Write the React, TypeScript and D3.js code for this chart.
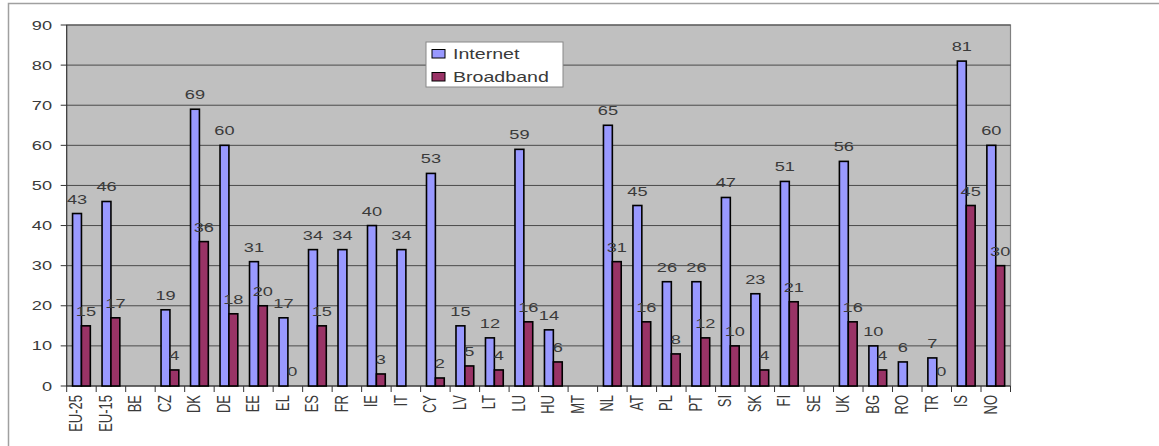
import { useEffect, useRef } from "react"
import * as d3 from "d3"

const countries = [
  "EU-25", "EU-15", "BE", "CZ", "DK", "DE", "EE", "EL", "ES", "FR", "IE", "IT", "CY", "LV", "LT", "LU",
  "HU", "MT", "NL", "AT", "PL", "PT", "SI", "SK", "FI", "SE", "UK", "BG", "RO", "TR", "IS", "NO",
]
const internet: (number | null)[] = [
  43, 46, null, 19, 69, 60, 31, 17, 34, 34, 40, 34, 53, 15, 12, 59,
  14, null, 65, 45, 26, 26, 47, 23, 51, null, 56, 10, 6, 7, 81, 60,
]
const broadband: (number | null)[] = [
  15, 17, null, 4, 36, 18, 20, 0, 15, null, 3, null, 2, 5, 4, 16,
  6, null, 31, 16, 8, 12, 10, 4, 21, null, 16, 4, null, 0, 45, 30,
]
const yTicks = [0, 10, 20, 30, 40, 50, 60, 70, 80, 90]
const seriesNames = ["Internet", "Broadband"]
const seriesColors = ["#9999FF", "#993366"]

// the source image is stretched sideways, so text is too
const SX = 1.4

const App = () => {
  const svgRef = useRef<SVGSVGElement>(null)

  useEffect(() => {
    const svg = d3.select(svgRef.current)
    svg.selectAll("*").remove()

    const width = 1159
    const height = 446
    const plot = { left: 66.7, right: 1010.5, top: 25, bottom: 386 }
    const font = "'Liberation Sans', Arial, sans-serif"
    const textColor = "#3a3a3a"

    svg.attr("width", width).attr("height", height)

    // outer frame
    svg.append("path")
      .attr("d", `M${width},3.5 H8.5 V${height}`)
      .attr("fill", "none")
      .attr("stroke", "#a0a0a0")
      .attr("stroke-width", 1.5)

    const x = d3.scaleBand().domain(countries).range([plot.left, plot.right])
    const xs = d3.scaleBand().domain(seriesNames).range([0, x.bandwidth()]).paddingInner(0).paddingOuter(0.66)
    const y = d3.scaleLinear().domain([0, 90]).range([plot.bottom, plot.top])

    svg.append("rect")
      .attr("x", plot.left)
      .attr("y", plot.top)
      .attr("width", plot.right - plot.left)
      .attr("height", plot.bottom - plot.top)
      .attr("fill", "#C0C0C0")
      .attr("stroke", "#808080")
      .attr("stroke-width", 1.2)

    // gridlines
    svg.append("g")
      .selectAll("line")
      .data(yTicks.filter((t) => t > 0))
      .enter()
      .append("line")
      .attr("x1", plot.left)
      .attr("x2", plot.right)
      .attr("y1", (d) => y(d))
      .attr("y2", (d) => y(d))
      .attr("stroke", "#4a4a4a")
      .attr("stroke-width", 1)

    // y axis
    const yAxis = svg.append("g")
    yAxis.append("line")
      .attr("x1", plot.left).attr("x2", plot.left)
      .attr("y1", plot.top).attr("y2", plot.bottom)
      .attr("stroke", "#333")
    yTicks.forEach((t) => {
      yAxis.append("line")
        .attr("x1", plot.left - 6).attr("x2", plot.left)
        .attr("y1", y(t)).attr("y2", y(t))
        .attr("stroke", "#333")
      yAxis.append("text")
        .attr("transform", `translate(52,${y(t) + 4.5}) scale(${SX},1)`)
        .attr("text-anchor", "end")
        .attr("font-family", font)
        .attr("font-size", 13)
        .attr("fill", textColor)
        .text(t)
    })

    // x axis
    const xAxis = svg.append("g")
    xAxis.append("line")
      .attr("x1", plot.left).attr("x2", plot.right)
      .attr("y1", plot.bottom).attr("y2", plot.bottom)
      .attr("stroke", "#222")
      .attr("stroke-width", 1.2)
    const bounds = countries.map((c) => x(c) as number).concat([plot.right])
    bounds.forEach((b) => {
      xAxis.append("line")
        .attr("x1", b).attr("x2", b)
        .attr("y1", plot.bottom).attr("y2", plot.bottom + 6)
        .attr("stroke", "#333")
    })
    countries.forEach((c) => {
      const cx = (x(c) as number) + x.bandwidth() / 2
      xAxis.append("text")
        .attr("transform", `translate(${cx + 1},395) scale(${SX},1) rotate(-90)`)
        .attr("text-anchor", "end")
        .attr("font-family", font)
        .attr("font-size", 13)
        .attr("fill", textColor)
        .text(c)
    })

    // bars
    const rows = countries.map((c, i) => ({ country: c, values: [internet[i], broadband[i]] }))
    const bars = svg.append("g")
    const labels = svg.append("g")
    rows.forEach((r) => {
      r.values.forEach((v, si) => {
        if (v === null) return
        const bx = (x(r.country) as number) + (xs(seriesNames[si]) as number)
        const bw = xs.bandwidth()
        bars.append("rect")
          .attr("x", bx)
          .attr("y", y(v))
          .attr("width", bw)
          .attr("height", plot.bottom - y(v))
          .attr("fill", seriesColors[si])
          .attr("stroke", "#000")
          .attr("stroke-width", 1.6)
        labels.append("text")
          .attr("transform", `translate(${bx + bw / 2},${y(v) - 10}) scale(${SX},1)`)
          .attr("text-anchor", "middle")
          .attr("font-family", font)
          .attr("font-size", 13)
          .attr("fill", textColor)
          .text(v)
      })
    })

    // legend
    const legend = svg.append("g")
    legend.append("rect")
      .attr("x", 426).attr("y", 42)
      .attr("width", 137).attr("height", 45)
      .attr("fill", "#fff")
      .attr("stroke", "#888")
    seriesNames.forEach((s, i) => {
      const ly = 49.5 + i * 23
      legend.append("rect")
        .attr("x", 432).attr("y", ly)
        .attr("width", 13).attr("height", 8.5)
        .attr("fill", seriesColors[i])
        .attr("stroke", "#000")
        .attr("stroke-width", 1)
      legend.append("text")
        .attr("transform", `translate(453,${ly + 9.5}) scale(${SX},1)`)
        .attr("font-family", font)
        .attr("font-size", 14)
        .attr("fill", textColor)
        .text(s)
    })
  }, [])

  return <svg ref={svgRef} style={{ position: "absolute", left: 0, top: 0, display: "block" }}></svg>
}

export default App
